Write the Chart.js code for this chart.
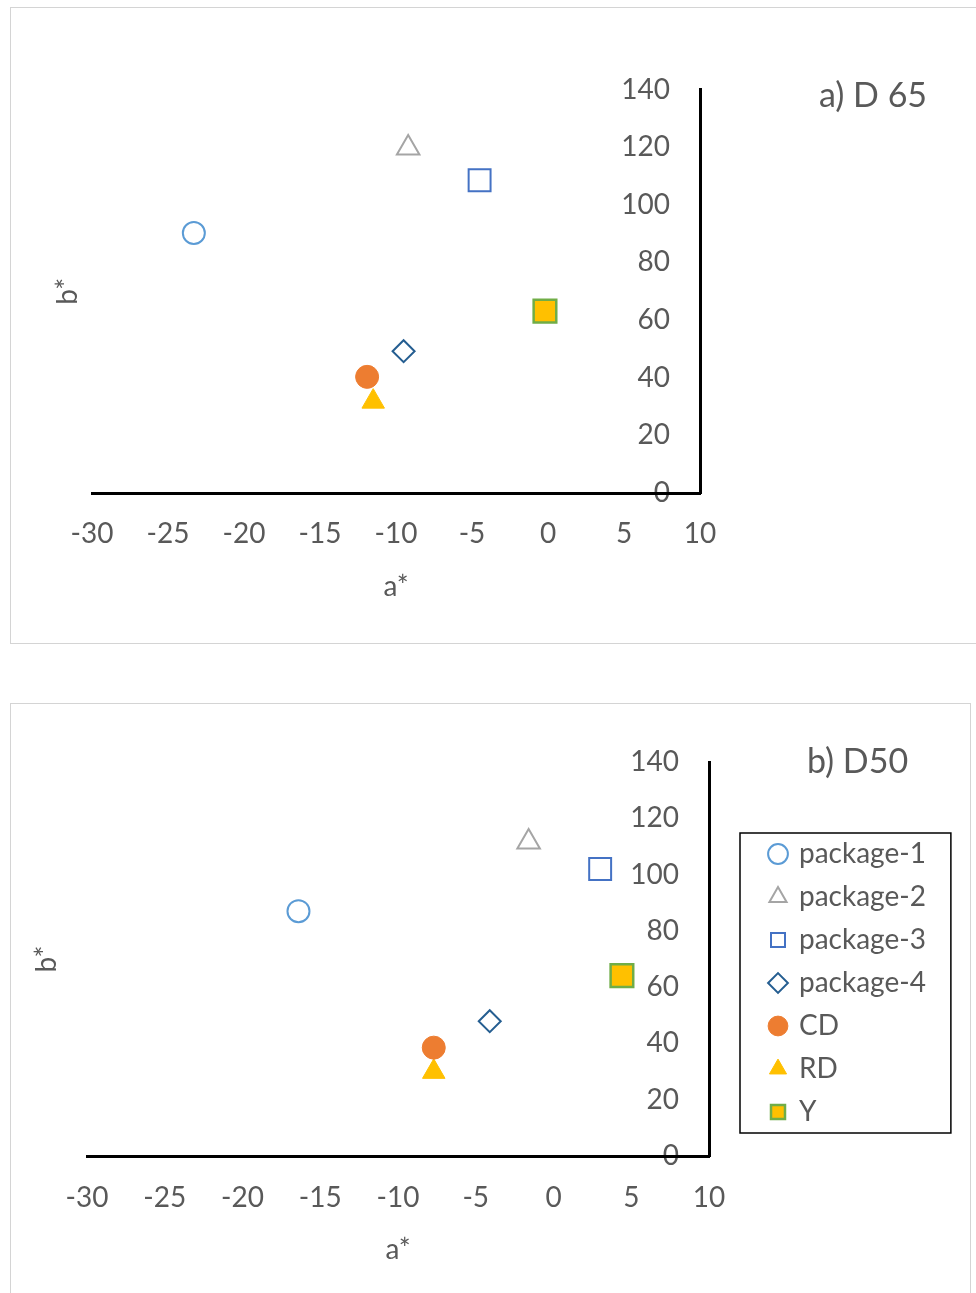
<!DOCTYPE html>
<html>
<head>
<meta charset="utf-8">
<script src="https://cdn.jsdelivr.net/npm/chart.js@4.4.1/dist/chart.umd.min.js"></script>
<style>
  html, body { margin: 0; padding: 0; background: #fff; }
  body { width: 976px; height: 1293px; position: relative; overflow: hidden; font-family: Lato, sans-serif; }
  .frame { position: absolute; border: 1px solid #d4d4d4; box-sizing: border-box; }
  .panel { position: absolute; left: 0; width: 976px; }
  .tag { position: absolute; font-size: 34px; line-height: 34px; color: #595959; white-space: nowrap; }
</style>
</head>
<body>
<div class="frame" style="left:10px;top:7px;width:990px;height:637px"></div>
<div class="frame" style="left:10px;top:703px;width:961px;height:640px"></div>
<div class="panel" style="top:0;height:650px"><canvas id="chart-d65"></canvas></div>
<div class="panel" style="top:650px;height:643px"><canvas id="chart-d50"></canvas></div>
<div class="tag" style="left:819px;top:77px">a) D 65</div>
<div class="tag" style="left:807px;top:743px">b) D50</div>
<script>
const seriesNames = ["package-1", "package-2", "package-3", "package-4", "CD", "RD", "Y"];

// D65 : a* / b*
const d65A = [-23.3, -9.2, -4.5, -9.5, -11.9, -11.5, -0.2];
const d65B = [90.2, 119.7, 108.5, 49.2, 40.3, 31.7, 63.1];

// D50 : a* / b*
const d50A = [-16.4, -1.6, 3.0, -4.1, -7.7, -7.7, 4.4];
const d50B = [87.0, 111.6, 102.0, 47.9, 38.5, 29.9, 64.1];

const xTicks = [-30, -25, -20, -15, -10, -5, 0, 5, 10];
const yTicks = [0, 20, 40, 60, 80, 100, 120, 140];

// marker looks, one per series
const markerShapes = ["circle", "triangle", "rect", "rectRot", "circle", "triangle", "rect"];
const markerFill = ["#ffffff", "#ffffff", "#ffffff", "#ffffff", "#ED7D31", "#FFC000", "#FFC000"];
const markerLine = ["#5B9BD5", "#A5A5A5", "#4472C4", "#255E91", "#ED7D31", "#FFC000", "#70AD47"];
const markerSize = [11, 13, 15.5, 11, 11.5, 13, 16];
const markerLineWidth = [2, 2, 2, 2, 1, 1, 2.5];

Chart.defaults.font.family = "Lato";
Chart.defaults.font.size = 28;
Chart.defaults.color = "#595959";

function buildDatasets(aVals, bVals) {
  return seriesNames.map((name, i) => ({
    label: name,
    data: [{ x: aVals[i], y: bVals[i] }],
    pointStyle: markerShapes[i],
    pointRadius: markerSize[i],
    pointHoverRadius: markerSize[i],
    pointBackgroundColor: markerFill[i],
    pointBorderColor: markerLine[i],
    pointBorderWidth: markerLineWidth[i],
    backgroundColor: markerFill[i],
    borderColor: markerLine[i],
    borderWidth: markerLineWidth[i],
  }));
}

// frame round the legend, taken from the legend's own boxes
const legendFrame = {
  id: "legendFrame",
  afterDraw(chart) {
    const boxes = chart.legend && chart.legend.legendHitBoxes;
    if (!chart.options.plugins.legend.display || !boxes || !boxes.length) return;
    const left = Math.min(...boxes.map((b) => b.left)) - 31;
    const top = Math.min(...boxes.map((b) => b.top)) - 7;
    const right = Math.max(...boxes.map((b) => b.left + b.width)) + 25;
    const bottom = Math.max(...boxes.map((b) => b.top + b.height)) + 7;
    const ctx = chart.ctx;
    ctx.save();
    ctx.strokeStyle = "#000";
    ctx.lineWidth = 1.5;
    ctx.strokeRect(left, top, right - left, bottom - top);
    ctx.restore();
  },
};

function makeOptions(cfg) {
  return {
    responsive: true,
    maintainAspectRatio: false,
    animation: false,
    events: [],
    layout: { padding: cfg.pad },
    scales: {
      y: {
        type: "linear",
        position: "right",
        min: 0,
        max: 140,
        afterBuildTicks: (s) => {
          s.ticks = yTicks.map((v) => ({ value: v }));
        },
        afterFit: (s) => {
          s.width = cfg.yGap;
        },
        grid: { display: false, drawTicks: false },
        border: { color: "#000", width: 3 },
        ticks: { mirror: true, padding: -30 },
      },
      yTitle: {
        position: "left",
        grid: { display: false, drawTicks: false },
        border: { display: false },
        ticks: { display: false },
        title: { display: true, text: "b*", padding: { top: 0, bottom: cfg.bGap } },
      },
      x: {
        type: "linear",
        position: "bottom",
        min: -30,
        max: 10,
        afterBuildTicks: (s) => {
          s.ticks = xTicks.map((v) => ({ value: v }));
        },
        grid: { display: false, drawTicks: false },
        border: { color: "#000", width: 3 },
        ticks: { padding: cfg.xPad, maxRotation: 0, autoSkip: false },
        title: { display: true, text: "a*", padding: { top: cfg.aGap, bottom: 0 } },
      },
    },
    plugins: {
      tooltip: { enabled: false },
      legend: cfg.legend
        ? {
            display: true,
            position: "right",
            align: "start",
            maxWidth: 260,
            title: { display: true, text: " ", font: { size: 10 }, padding: { top: 51, bottom: 0 } },
            labels: { usePointStyle: true, boxWidth: 14, boxHeight: 14, padding: 15, color: "#595959" },
          }
        : { display: false },
    },
  };
}

new Chart(document.querySelector("#chart-d65"), {
  type: "scatter",
  data: { datasets: buildDatasets(d65A, d65B) },
  options: makeOptions({
    pad: { left: 51.2, right: 276, top: 89.5, bottom: 46.2 },
    yGap: 0,
    bGap: 7.2,
    xPad: 24.2,
    aGap: -4.8,
    legend: false,
  }),
});

const d50Chart = new Chart(document.querySelector("#chart-d50"), {
  type: "scatter",
  data: { datasets: buildDatasets(d50A, d50B) },
  options: makeOptions({
    pad: { left: 30.2, right: 20, top: 112, bottom: 26.2 },
    yGap: 47,
    bGap: 23.2,
    xPad: 25.2,
    aGap: -6.8,
    legend: true,
  }),
  plugins: [legendFrame],
});

// once the legend width is known, put the plot's right edge where the reference has it
const plotRight = 709;
d50Chart.options.layout.padding.right = 976 - plotRight - 47 - d50Chart.legend.width;
d50Chart.update();
</script>
</body>
</html>
